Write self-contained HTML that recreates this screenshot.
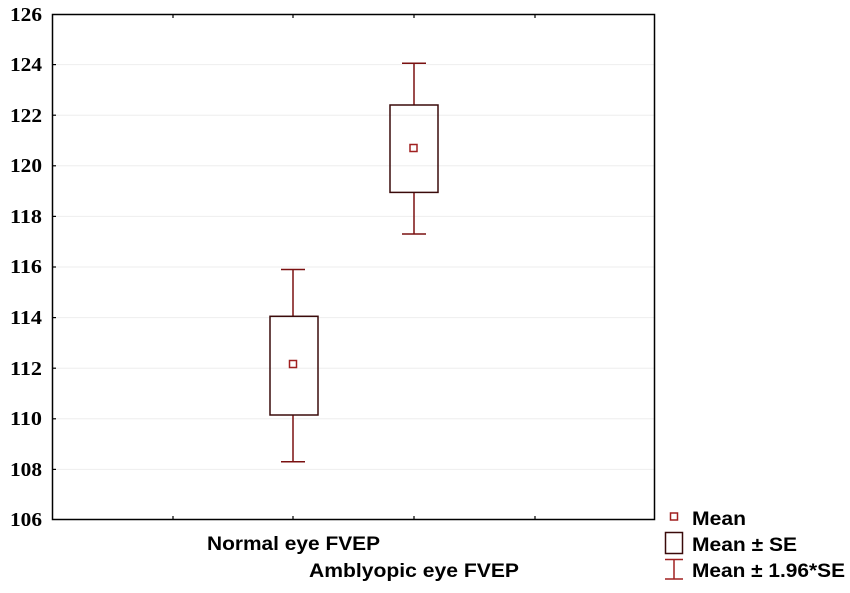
<!DOCTYPE html><html><head><style>body{margin:0;background:#fff}svg{display:block}</style></head><body>
<svg width="850" height="593" xmlns="http://www.w3.org/2000/svg">
<g stroke="#eee" stroke-width="1">
<line x1="52" x2="655" y1="64.6" y2="64.6"/><line x1="52" x2="655" y1="115.2" y2="115.2"/><line x1="52" x2="655" y1="165.8" y2="165.8"/><line x1="52" x2="655" y1="216.4" y2="216.4"/><line x1="52" x2="655" y1="267" y2="267"/><line x1="52" x2="655" y1="317.6" y2="317.6"/><line x1="52" x2="655" y1="368.2" y2="368.2"/><line x1="52" x2="655" y1="418.8" y2="418.8"/><line x1="52" x2="655" y1="469.4" y2="469.4"/>
</g>
<rect x="52.5" y="14.5" width="602" height="505" fill="none" stroke="#000" stroke-width="1.5"/>
<g stroke="#000" stroke-width="1.2">
<line x1="52" x2="56" y1="64.6" y2="64.6"/><line x1="52" x2="56" y1="115.2" y2="115.2"/><line x1="52" x2="56" y1="165.8" y2="165.8"/><line x1="52" x2="56" y1="216.4" y2="216.4"/><line x1="52" x2="56" y1="267" y2="267"/><line x1="52" x2="56" y1="317.6" y2="317.6"/><line x1="52" x2="56" y1="368.2" y2="368.2"/><line x1="52" x2="56" y1="418.8" y2="418.8"/><line x1="52" x2="56" y1="469.4" y2="469.4"/>
<line x1="173" x2="173" y1="14" y2="18"/><line x1="293" x2="293" y1="14" y2="18"/><line x1="414" x2="414" y1="14" y2="18"/><line x1="535" x2="535" y1="14" y2="18"/>
<line x1="173" x2="173" y1="520" y2="516"/><line x1="293" x2="293" y1="520" y2="516"/><line x1="414" x2="414" y1="520" y2="516"/><line x1="535" x2="535" y1="520" y2="516"/>
</g>
<g font-family="Liberation Serif, serif" font-weight="bold" font-size="20" fill="#000">
<text x="10" y="21" textLength="32" lengthAdjust="spacingAndGlyphs">126</text><text x="10" y="71" textLength="32" lengthAdjust="spacingAndGlyphs">124</text><text x="10" y="122" textLength="32" lengthAdjust="spacingAndGlyphs">122</text><text x="10" y="172" textLength="32" lengthAdjust="spacingAndGlyphs">120</text><text x="10" y="223" textLength="32" lengthAdjust="spacingAndGlyphs">118</text><text x="10" y="273" textLength="32" lengthAdjust="spacingAndGlyphs">116</text><text x="10" y="324" textLength="32" lengthAdjust="spacingAndGlyphs">114</text><text x="10" y="375" textLength="32" lengthAdjust="spacingAndGlyphs">112</text><text x="10" y="425" textLength="32" lengthAdjust="spacingAndGlyphs">110</text><text x="10" y="476" textLength="32" lengthAdjust="spacingAndGlyphs">108</text><text x="10" y="526" textLength="32" lengthAdjust="spacingAndGlyphs">106</text>
</g>
<g stroke="#7a1010" stroke-width="1.5" fill="none">
<line x1="293" x2="293" y1="269.5" y2="316.3"/><line x1="293" x2="293" y1="415" y2="461.8"/>
<line x1="281" x2="305" y1="269.5" y2="269.5"/><line x1="281" x2="305" y1="461.8" y2="461.8"/>
<line x1="414" x2="414" y1="63.3" y2="105"/><line x1="414" x2="414" y1="192.4" y2="234"/>
<line x1="402" x2="426" y1="63.3" y2="63.3"/><line x1="402" x2="426" y1="234" y2="234"/>
</g>
<g stroke="#3a0a0a" stroke-width="1.5" fill="none">
<rect x="270" y="316.3" width="48" height="98.7"/><rect x="390" y="105" width="48" height="87.4"/>
</g>
<g stroke="#a02020" stroke-width="1.5" fill="none">
<rect x="289.5" y="360.5" width="7" height="7"/><rect x="410" y="144.5" width="7" height="7"/>
<rect x="670.5" y="513" width="7" height="7"/>
</g>
<rect x="665.5" y="532.5" width="17" height="21" fill="none" stroke="#3a0a0a" stroke-width="1.5"/>
<g stroke="#a02020" stroke-width="1.5"><line x1="665" x2="683" y1="559.5" y2="559.5"/><line x1="665" x2="683" y1="579" y2="579"/><line x1="674" x2="674" y1="559.5" y2="579"/></g>
<g font-family="Liberation Sans, sans-serif" font-weight="bold" font-size="19" fill="#000">
<text x="207" y="550" textLength="173" lengthAdjust="spacingAndGlyphs">Normal eye FVEP</text>
<text x="309" y="577" textLength="210" lengthAdjust="spacingAndGlyphs">Amblyopic eye FVEP</text>
<text x="692" y="525" textLength="54" lengthAdjust="spacingAndGlyphs">Mean</text>
<text x="692" y="551" textLength="105" lengthAdjust="spacingAndGlyphs">Mean ± SE</text>
<text x="692" y="577" textLength="153" lengthAdjust="spacingAndGlyphs">Mean ± 1.96*SE</text>
</g>
</svg></body></html>
